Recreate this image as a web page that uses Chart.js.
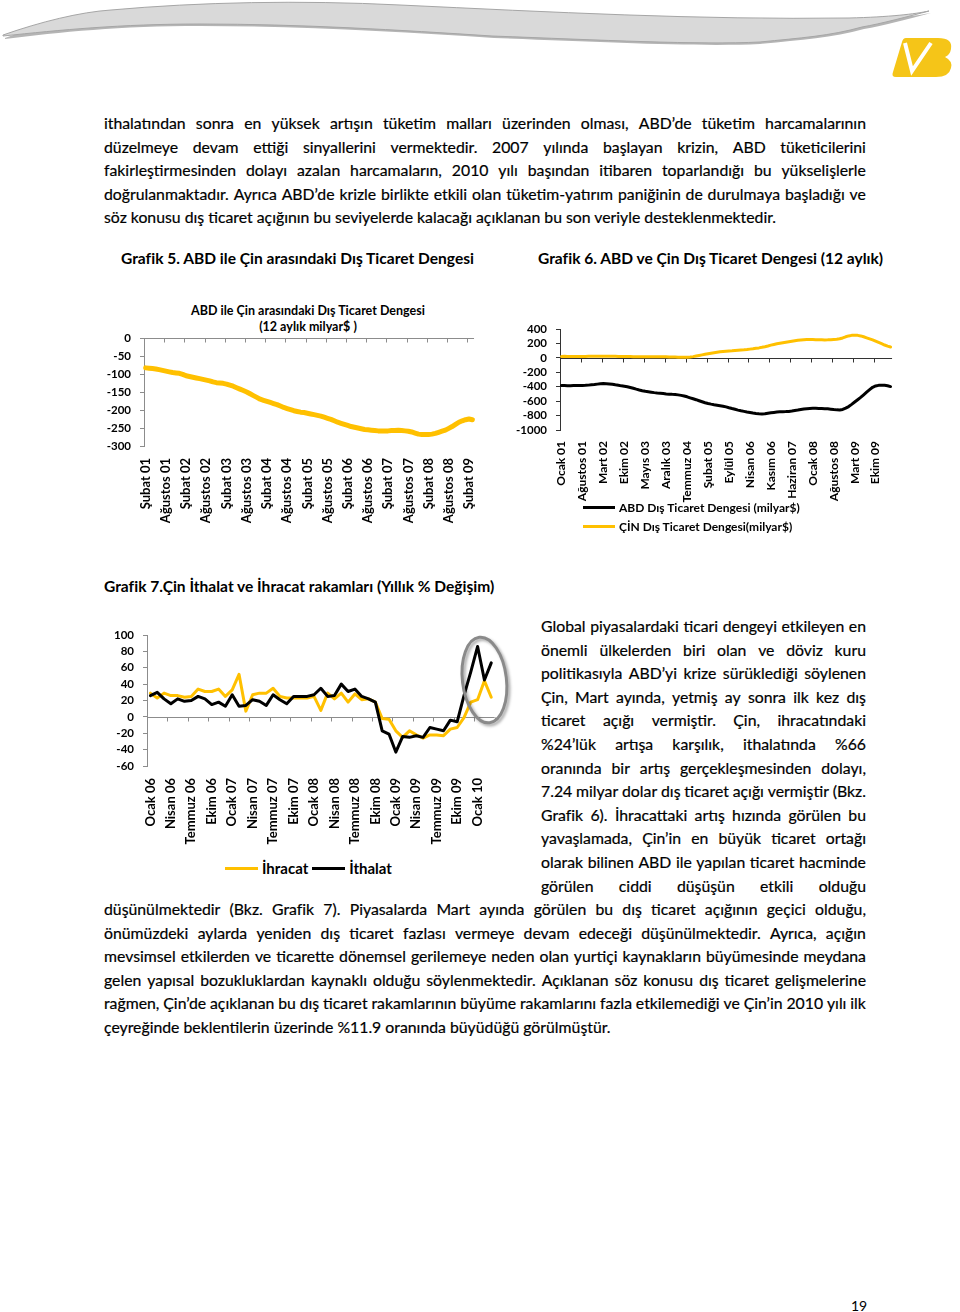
<!DOCTYPE html>
<html lang="tr">
<head>
<meta charset="utf-8">
<title>Grafik 5-7</title>
<script src="https://cdn.jsdelivr.net/npm/chart.js@4/dist/chart.umd.min.js"></script>
<style>
  body { margin: 0; background: #fff; font-family: Lato, "Open Sans", sans-serif; color: #000; }
  #page { position: relative; width: 960px; height: 1312px; overflow: hidden; }
  .abs { position: absolute; }
  .txt { position: absolute; font-size: 15.8px; -webkit-text-stroke: 0.2px #000; }
  .ln { display: flex; justify-content: space-between; height: 23.6px; line-height: 23.6px; white-space: nowrap; }
  .ln.last { display: block; }
  .hd { position: absolute; font-weight: bold; font-size: 15.55px; white-space: nowrap; }
  .ttl { position: absolute; font-weight: bold; font-size: 12.5px; text-align: center; line-height: 16px; white-space: nowrap; }
  .lg { position: absolute; font-weight: bold; white-space: nowrap; display: flex; align-items: center; }
  .lg i { display: inline-block; height: 3px; margin-right: 4px; }
  canvas { position: absolute; }
</style>
</head>
<body>
<div id="page">
  <svg class="abs" style="left:0;top:0" width="960" height="85">
    <path d="M5,38 C40,25 80,15 113,12 C200,4 300,2 400,7 C550,14 700,22 851,20 C890,19 915,16 931,13 C912,18 882,26 864,29 C832,38 800,40 760,44 C700,47 600,42 494,38 C400,32 300,26 200,26 C120,26 60,32 5,39 Z" fill="#b5b5b5"/>
    <path d="M3,35 C40,22 80,12 111,10 C200,2 300,0 400,5 C550,12 700,20 849,18 C890,17 915,14 929,11 C910,16 880,24 862,27 C830,36 800,38 760,42 C700,45 600,40 492,36 C400,30 300,24 200,24 C120,24 60,30 3,36 Z" fill="#d9d9d9" stroke="#a6a6a6" stroke-width="1"/>
    <path d="M906,38 L938,38 Q953,38 951,49 Q950,55 945,57 Q953,61 951,68 Q949,77 936,77 L896,77 Q891,77 893,72 L902,42 Q903,38 906,38 Z" fill="#f5c518"/>
    <path d="M905,43 L912,71 L931,43" fill="none" stroke="#fff" stroke-width="4"/>
  </svg>

  <div class="txt" id="p1" style="left:104px;top:111px;width:762px"></div>

  <div class="hd" style="left:121px;top:249px">Grafik 5. ABD ile Çin arasındaki Dış Ticaret Dengesi</div>
  <div class="hd" style="left:538px;top:249px">Grafik 6. ABD ve Çin Dış Ticaret Dengesi (12 aylık)</div>

  <div class="ttl" style="left:158px;top:303px;width:300px">ABD ile Çin arasındaki Dış Ticaret Dengesi<br>(12 aylık milyar$ )</div>
  <canvas id="g5" width="400" height="226" style="left:100px;top:300px"></canvas>

  <canvas id="g6" width="401" height="200" style="left:515px;top:310px"></canvas>
  <div class="lg" style="left:583px;top:499px;font-size:12px;height:16px"><i style="width:32px;background:#000"></i>ABD Dış Ticaret Dengesi (milyar$)</div>
  <div class="lg" style="left:583px;top:518px;font-size:12px;height:16px"><i style="width:32px;background:#ffc000"></i>ÇİN Dış Ticaret Dengesi(milyar$)</div>

  <div class="hd" style="left:104px;top:577px">Grafik 7.Çin İthalat ve İhracat rakamları (Yıllık % Değişim)</div>
  <canvas id="g7" width="419" height="231" style="left:100px;top:615px"></canvas>
  <div class="lg" style="left:225px;top:858px;font-size:15px;height:20px"><i style="width:33px;background:#ffc000"></i>İhracat<i style="width:33px;background:#000;margin-left:4px"></i>İthalat</div>

  <div class="txt" id="p2" style="left:541px;top:614px;width:325px"></div>
  <div class="txt" id="p3" style="left:104px;top:897px;width:762px"></div>

  <div class="abs" style="left:851px;top:1297px;font-size:14px">19</div>
</div>

<script>
// ---- metin satırları ----
const para1 = [
  "ithalatından sonra en yüksek artışın tüketim malları üzerinden olması, ABD’de tüketim harcamalarının",
  "düzelmeye devam ettiği sinyallerini vermektedir. 2007 yılında başlayan krizin, ABD tüketicilerini",
  "fakirleştirmesinden dolayı azalan harcamaların, 2010 yılı başından itibaren toparlandığı bu yükselişlerle",
  "doğrulanmaktadır. Ayrıca ABD’de krizle birlikte etkili olan tüketim-yatırım paniğinin de durulmaya başladığı ve",
  "söz konusu dış ticaret açığının bu seviyelerde kalacağı açıklanan bu son veriyle desteklenmektedir."
];
const para2 = [
  "Global piyasalardaki ticari dengeyi etkileyen en",
  "önemli ülkelerden biri olan ve döviz kuru",
  "politikasıyla ABD’yi krize sürüklediği söylenen",
  "Çin, Mart ayında, yetmiş ay sonra ilk kez dış",
  "ticaret açığı vermiştir. Çin, ihracatındaki",
  "%24’lük artışa karşılık, ithalatında %66",
  "oranında bir artış gerçekleşmesinden dolayı,",
  "7.24 milyar dolar dış ticaret açığı vermiştir (Bkz.",
  "Grafik 6). İhracattaki artış hızında görülen bu",
  "yavaşlamada, Çin’in en büyük ticaret ortağı",
  "olarak bilinen ABD ile yapılan ticaret hacminde",
  "görülen ciddi düşüşün etkili olduğu"
];
const para3 = [
  "düşünülmektedir (Bkz. Grafik 7). Piyasalarda Mart ayında görülen bu dış ticaret açığının geçici olduğu,",
  "önümüzdeki aylarda yeniden dış ticaret fazlası vermeye devam edeceği düşünülmektedir. Ayrıca, açığın",
  "mevsimsel etkilerden ve ticarette dönemsel gerilemeye neden olan yurtiçi kaynakların büyümesinde meydana",
  "gelen yapısal bozukluklardan kaynaklı olduğu söylenmektedir. Açıklanan söz konusu dış ticaret gelişmelerine",
  "rağmen, Çin’de açıklanan bu dış ticaret rakamlarının büyüme rakamlarını fazla etkilemediği ve Çin’in 2010 yılı ilk",
  "çeyreğinde beklentilerin üzerinde %11.9 oranında büyüdüğü görülmüştür."
];

function writeLines(id, lines, lastLeft) {
  const el = document.getElementById(id);
  lines.forEach((t, i) => {
    const d = document.createElement("div");
    d.className = "ln";
    if (lastLeft && i === lines.length - 1) {
      d.classList.add("last");
      d.textContent = t;
    } else {
      t.split(" ").forEach(w => {
        const s = document.createElement("span");
        s.textContent = w;
        d.appendChild(s);
      });
    }
    el.appendChild(d);
  });
}
writeLines("p1", para1, true);
writeLines("p2", para2, false);
writeLines("p3", para3, true);

// ---- veriler ----
const months = ["Ocak", "Şubat", "Mart", "Nisan", "Mayıs", "Haziran", "Temmuz", "Ağustos", "Eylül", "Ekim", "Kasım", "Aralık"];
function monthLabels(year, month, count) {
  const out = [];
  for (let k = 0; k < count; k++) {
    const m = (month + k) % 12;
    const y = year + Math.floor((month + k) / 12);
    out.push(months[m] + " " + String(y).padStart(2, "0"));
  }
  return out;
}

// Grafik 5: Şubat 01 - Mart 09
const g5Labels = monthLabels(1, 1, 98);
const g5Balance = [
  -83, -84, -85, -86, -88, -90, -92, -94, -96, -97, -98, -101,
  -105, -107, -109, -111, -113, -115, -117, -119, -122, -124, -125, -126,
  -128, -131, -134, -138, -142, -146, -150, -155, -160, -165, -170, -173,
  -176, -179, -182, -185, -189, -193, -196, -199, -202, -204, -206, -207,
  -209, -211, -213, -215, -217, -220, -223, -226, -230, -234, -237, -240,
  -243, -246, -248, -250, -252, -254, -255, -256, -257, -258, -258, -258,
  -258, -257, -257, -256, -257, -258, -259, -261, -264, -267, -268, -268,
  -268, -267, -265, -262, -259, -256, -251, -246, -240, -234, -230, -227,
  -225, -227
];
const g5Ticks = [0, -50, -100, -150, -200, -250, -300];

// Grafik 6: Ocak 01 - Mart 10
const g6Labels = monthLabels(1, 0, 111);
const g6Abd = [
  -384, -384, -385, -385, -384, -384, -384, -383, -381, -378, -374, -370,
  -364, -358, -357, -358, -361, -367, -374, -380, -388, -394, -401, -411,
  -422, -434, -445, -455, -464, -470, -476, -482, -487, -491, -495, -500,
  -503, -506, -508, -513, -520, -528, -540, -554, -567, -580, -595, -609,
  -622, -632, -641, -649, -656, -663, -670, -680, -692, -703, -713, -724,
  -734, -742, -750, -757, -764, -770, -775, -778, -776, -768, -762, -756,
  -751, -748, -747, -745, -742, -737, -730, -724, -716, -708, -704, -702,
  -700, -699, -701, -703, -705, -707, -712, -717, -721, -722, -715, -697,
  -675, -645, -612, -580, -548, -512, -475, -440, -408, -390, -381, -379,
  -380, -386, -398
];
const g6Cin = [
  20, 21, 20, 19, 18, 18, 18, 19, 20, 21, 22, 22,
  23, 24, 24, 23, 22, 22, 21, 20, 20, 19, 18, 18,
  17, 17, 16, 16, 16, 16, 15, 15, 15, 14, 14, 14,
  13, 12, 11, 10, 10, 9, 10, 12, 17, 25, 33, 41,
  49, 57, 65, 72, 78, 84, 88, 92, 96, 99, 103, 106,
  109, 112, 116, 121, 126, 132, 138, 146, 155, 165, 176, 186,
  195, 202, 209, 216, 223, 230, 237, 243, 247, 251, 254, 255,
  254, 251, 250, 250, 249, 250, 252, 255, 258, 264, 276, 292,
  304, 312, 315, 312, 304, 292, 278, 264, 249, 231, 213, 196,
  178, 162, 150
];
const g6Ticks = [400, 200, 0, -200, -400, -600, -800, -1000];

// Grafik 7: Ocak 06 - Mart 10
const g7Labels = monthLabels(6, 0, 51);
const g7Ihracat = [
  29, 23, 29, 26, 26, 24, 25, 34, 31, 31, 34, 25,
  33, 52, 7, 27, 29, 29, 35, 25, 23, 23, 23, 23,
  25, 8, 29, 22, 29, 18, 28, 21, 22, 18, -2, -3,
  -17, -25, -17, -22, -26, -22, -22, -23, -15, -13, -1, 18,
  21, 44, 24
];
const g7Ithalat = [
  26, 30, 22, 16, 22, 19, 20, 25, 22, 15, 18, 13,
  27, 13, 14, 21, 19, 14, 27, 21, 16, 25, 25, 25,
  27, 35, 25, 26, 40, 31, 34, 25, 22, 18, -17, -21,
  -43, -24, -25, -23, -25, -13, -15, -17, -4, -6, 26, 55,
  86, 45, 66
];
const g7Ticks = [100, 80, 60, 40, 20, 0, -20, -40, -60];

const YELLOW = "#ffc000";

// sıfır çizgisi ve üzerindeki kategori çentikleri
const zeroAxis = {
  id: "zeroAxis",
  beforeDatasetsDraw(chart, args, opts) {
    const a = chart.chartArea;
    const y0 = Math.round(chart.scales.y.getPixelForValue(0)) + 0.5;
    const n = chart.data.labels.length;
    const w = (a.right - a.left) / n;
    const ctx = chart.ctx;
    ctx.save();
    ctx.strokeStyle = opts.color;
    ctx.lineWidth = 1;
    ctx.beginPath();
    ctx.moveTo(a.left, y0);
    ctx.lineTo(a.right, y0);
    for (let k = 0; k <= n; k += opts.every) {
      const px = Math.round(a.left + k * w) + 0.5;
      ctx.moveTo(px, y0);
      ctx.lineTo(px, y0 + 4);
    }
    ctx.stroke();
    ctx.restore();
  }
};

// Grafik 7'deki gri elips
const ellipse = {
  id: "ellipse",
  afterDraw(chart, args, opts) {
    if (!opts.show) return;
    const cx = chart.scales.x.getPixelForValue(opts.index);
    const cy = chart.scales.y.getPixelForValue(opts.value);
    const ctx = chart.ctx;
    ctx.save();
    ctx.shadowColor = "rgba(0,0,0,0.35)";
    ctx.shadowBlur = 3;
    ctx.shadowOffsetX = 2;
    ctx.shadowOffsetY = 2;
    ctx.strokeStyle = "#8a8a8a";
    ctx.lineWidth = 3;
    ctx.beginPath();
    ctx.ellipse(cx, cy, 22, 43, -0.12, 0, Math.PI * 2);
    ctx.stroke();
    ctx.restore();
  }
};

function makeOptions(cfg) {
  return {
    responsive: false,
    animation: false,
    devicePixelRatio: 1,
    layout: { padding: { top: cfg.padTop, right: cfg.padRight, left: 0, bottom: 0 } },
    plugins: {
      legend: { display: false },
      tooltip: { enabled: false },
      zeroAxis: { every: cfg.every, color: cfg.axis },
      ellipse: cfg.ellipse || { show: false }
    },
    elements: { point: { radius: 0 }, line: { tension: 0, borderJoinStyle: "round", borderCapStyle: "round" } },
    scales: {
      x: {
        type: "category",
        offset: true,
        grid: { display: false, drawTicks: false },
        border: { display: false },
        ticks: {
          autoSkip: false,
          minRotation: 90,
          maxRotation: 90,
          padding: cfg.xPad,
          color: "#000",
          font: { family: "Lato", weight: "bold", size: cfg.xFont },
          callback: function (val, index) {
            return index % cfg.every === 0 ? this.getLabelForValue(val) : "";
          }
        },
        afterFit: s => { s.height = 80; }
      },
      y: {
        min: Math.min(...cfg.ticks),
        max: Math.max(...cfg.ticks),
        afterBuildTicks: s => { s.ticks = cfg.ticks.map(v => ({ value: v })); },
        grid: { drawOnChartArea: false, tickLength: 4, color: cfg.axis },
        border: { color: cfg.axis },
        ticks: {
          autoSkip: false,
          padding: 9,
          color: "#000",
          font: { family: "Lato", weight: "bold", size: 11.5 },
          callback: v => String(v)
        },
        afterFit: s => { s.width = cfg.yWidth; }
      }
    }
  };
}

new Chart(document.getElementById("g5"), {
  type: "line",
  data: {
    labels: g5Labels,
    datasets: [{ label: "ABD ile Çin arasındaki Dış Ticaret Dengesi", data: g5Balance, borderColor: YELLOW, borderWidth: 5 }]
  },
  options: makeOptions({ padTop: 38, padRight: 8, every: 6, xPad: 12, xFont: 13, yWidth: 44, ticks: g5Ticks, axis: "#8c8c8c" }),
  plugins: [zeroAxis, ellipse]
});

new Chart(document.getElementById("g6"), {
  type: "line",
  data: {
    labels: g6Labels,
    datasets: [
      { label: "ABD Dış Ticaret Dengesi (milyar$)", data: g6Abd, borderColor: "#000", borderWidth: 3 },
      { label: "ÇİN Dış Ticaret Dengesi(milyar$)", data: g6Cin, borderColor: YELLOW, borderWidth: 3 }
    ]
  },
  options: makeOptions({ padTop: 19, padRight: 8, every: 7, xPad: 11, xFont: 12, yWidth: 45, ticks: g6Ticks, axis: "#333" }),
  plugins: [zeroAxis, ellipse]
});

new Chart(document.getElementById("g7"), {
  type: "line",
  data: {
    labels: g7Labels,
    datasets: [
      { label: "İthalat", data: g7Ithalat, borderColor: "#000", borderWidth: 3 },
      { label: "İhracat", data: g7Ihracat, borderColor: YELLOW, borderWidth: 3 }
    ]
  },
  options: makeOptions({
    padTop: 20, padRight: 16, every: 3, xPad: 12, xFont: 13, yWidth: 47, ticks: g7Ticks, axis: "#8c8c8c",
    ellipse: { show: true, index: 49, value: 45 }
  }),
  plugins: [zeroAxis, ellipse]
});
</script>
</body>
</html>
